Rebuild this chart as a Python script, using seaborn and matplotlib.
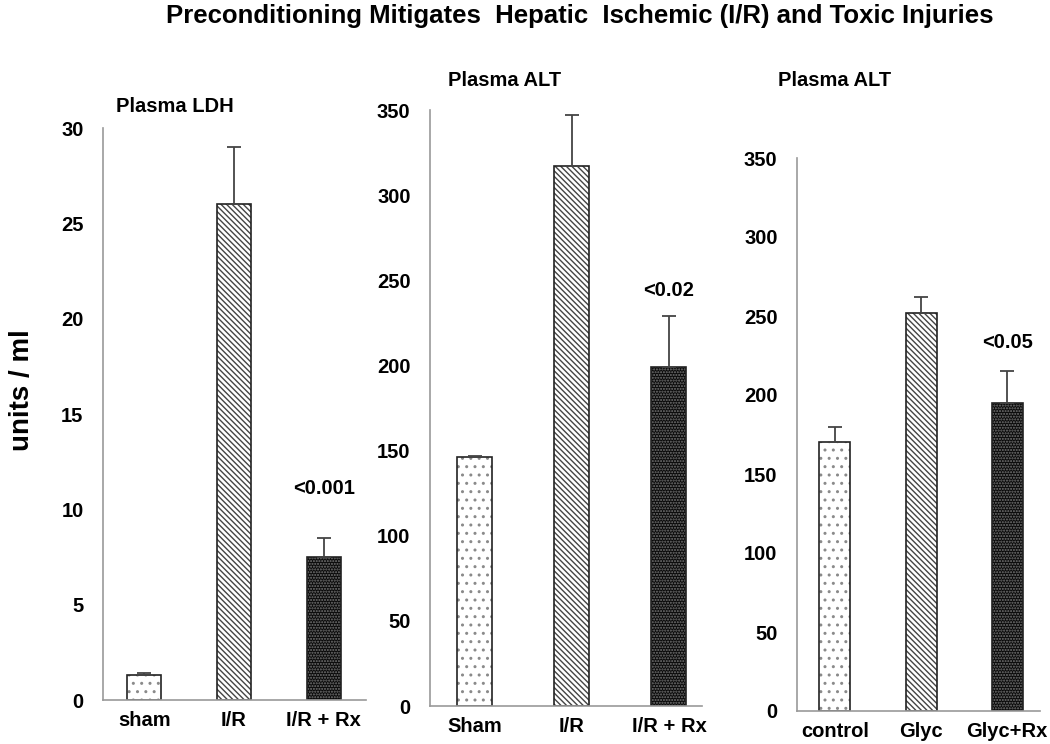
import matplotlib
matplotlib.use("Agg")
import matplotlib.pyplot as plt
import seaborn as sns
import numpy as np
import pandas as pd

sns.set_style("white")
plt.rcParams['font.family'] = ['Liberation Sans', 'DejaVu Sans']
plt.rcParams['font.weight'] = 'bold'
plt.rcParams['text.color'] = 'black'
plt.rcParams['xtick.color'] = 'black'
plt.rcParams['ytick.color'] = 'black'
plt.rcParams['hatch.linewidth'] = 1.0

main_title = "Preconditioning Mitigates  Hepatic  Ischemic (I/R) and Toxic Injuries"

ldh_cats = ["sham", "I/R", "I/R + Rx"]
ldh_vals = [1.3, 26.0, 7.5]
ldh_err = [0.1, 3.0, 1.0]

alt1_cats = ["Sham", "I/R", "I/R + Rx"]
alt1_vals = [146, 317, 199]
alt1_err = [1, 30, 30]

alt2_cats = ["control", "Glyc", "Glyc+Rx"]
alt2_vals = [170, 252, 195]
alt2_err = [10, 10, 20]

panel_titles = ["Plasma LDH", "Plasma ALT", "Plasma ALT"]
pval_labels = ["<0.001", "<0.02", "<0.05"]
pval_label_y = [11.1, 244, 233]

fig = plt.figure(figsize=(10.5, 7.44), dpi=100)

W, H = 1050, 744
def px_axes(left, right, y0, ytop):
    return fig.add_axes([left / W, (H - y0) / H, (right - left) / W, (y0 - ytop) / H])

ax1 = px_axes(103, 366, 700, 128)
ax2 = px_axes(430, 702, 706, 110)
ax3 = px_axes(797, 1040, 711, 158)

specs = [
    (ax1, ldh_cats, ldh_vals, ldh_err, (0, 30), np.arange(0, 31, 5), (-0.46, 2.47), 0.38),
    (ax2, alt1_cats, alt1_vals, alt1_err, (0, 350), np.arange(0, 351, 50), (-0.46, 2.34), 0.36),
    (ax3, alt2_cats, alt2_vals, alt2_err, (0, 350), np.arange(0, 351, 50), (-0.44, 2.38), 0.36),
]

hatches = ['..', '\\\\\\\\\\\\', '......']
faces = ['white', 'white', '#0a0a0a']
hatch_cols = ['#8a8a8a', '#444444', '#777777']

for i, (ax, cats, vals, errs, ylim, yt, xl, bw) in enumerate(specs):
    df = pd.DataFrame({"cat": cats, "val": vals})
    sns.barplot(data=df, x="cat", y="val", ax=ax, width=bw, color="white",
                edgecolor="#222222", linewidth=1.2, errorbar=None)
    for j, p in enumerate(ax.patches):
        p.set_facecolor(faces[j])
        p.set_hatch(hatches[j])
        p.set_edgecolor("#222222")
        p._hatch_color = matplotlib.colors.to_rgba(hatch_cols[j])
    xs = [p.get_x() + p.get_width() / 2 for p in ax.patches]
    ax.errorbar(xs, vals, yerr=[np.zeros(len(errs)), errs], fmt='none',
                ecolor='#444444', elinewidth=1.3, capsize=5, capthick=1.3)
    ax.set_ylim(*ylim)
    ax.set_yticks(yt)
    ax.set_xlim(*xl)
    ax.set_xlabel("")
    ax.set_ylabel("")
    for s in ["top", "right"]:
        ax.spines[s].set_visible(False)
    for s in ["left", "bottom"]:
        ax.spines[s].set_color("#999999")
        ax.spines[s].set_linewidth(1.2)
    ax.tick_params(axis='y', direction='out', length=6, width=1.2, color='#999999',
                   labelcolor='black', labelsize=14.5, pad=8)
    ax.tick_params(axis='x', length=0, labelsize=14.5, labelcolor='black', pad=8)
    for lab in ax.get_xticklabels() + ax.get_yticklabels():
        lab.set_fontweight('bold')
    ax.text(xs[2], pval_label_y[i], pval_labels[i], ha='center', va='center',
            fontsize=14.5, fontweight='bold')

fig.text(175 / W, 1 - 107 / H, panel_titles[0], ha='center', va='center', fontsize=14.5, fontweight='bold')
fig.text(505 / W, 1 - 80 / H, panel_titles[1], ha='center', va='center', fontsize=14.5, fontweight='bold')
fig.text(835 / W, 1 - 80 / H, panel_titles[2], ha='center', va='center', fontsize=14.5, fontweight='bold')
fig.text(580 / W, 1 - 16 / H, main_title, ha='center', va='center', fontsize=18.5, fontweight='bold')
fig.text(22 / W, 1 - 390 / H, "units / ml", ha='center', va='center', rotation=90,
         fontsize=20, fontweight='bold')

fig.savefig("out.png", dpi=100)
